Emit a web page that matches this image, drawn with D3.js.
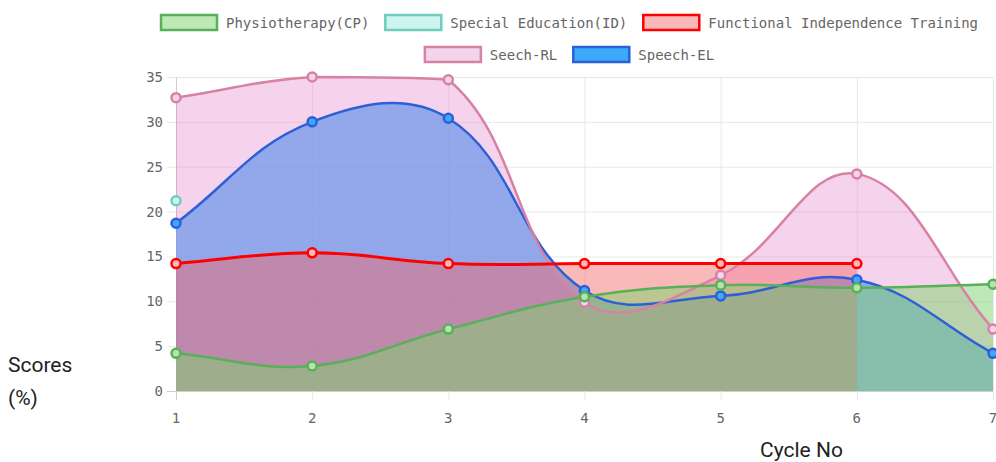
<!DOCTYPE html>
<html lang="en">

<head>
  <meta charset="UTF-8">
  <script src="https://d3js.org/d3.v7.min.js"></script>
  <style>
    body { margin: 0; background: #fff; }
  </style>
</head>

<body>

  <script>
    // data
    const cycles = [1, 2, 3, 4, 5, 6, 7];
    const physio = [4.2, 2.8, 6.9, 10.5, 11.8, 11.5, 11.9];
    const specialEd = [21.2];
    const fit = [14.2, 15.4, 14.2, 14.2, 14.2, 14.2];
    const speechRL = [32.7, 35.0, 34.7, 9.9, 12.9, 24.2, 6.9];
    const speechEL = [18.7, 30.0, 30.4, 11.2, 10.6, 12.4, 4.2];
    const yTicks = [0, 5, 10, 15, 20, 25, 30, 35];
    const seriesNames = ['Physiotherapy(CP)', 'Special Education(ID)', 'Functional Independence Training', 'Seech-RL', 'Speech-EL'];

    const series = [
      { name: seriesNames[0], values: physio, stroke: 'rgb(88,176,88)', fill: 'rgba(125,211,109,0.5)', box: 'rgb(190,233,182)', dot: 'rgb(180,228,170)', lw: 2.5 },
      { name: seriesNames[1], values: specialEd, stroke: 'rgb(110,205,190)', fill: 'rgba(110,225,205,0.35)', box: 'rgb(205,245,238)', dot: 'rgb(205,245,238)', lw: 2.5 },
      { name: seriesNames[2], values: fit, stroke: 'rgb(255,0,0)', fill: 'rgba(245,100,100,0.45)', box: 'rgb(250,185,185)', dot: 'rgb(250,185,185)', lw: 3 },
      { name: seriesNames[3], values: speechRL, stroke: 'rgb(215,130,165)', fill: 'rgba(225,110,195,0.3)', box: 'rgb(244,211,236)', dot: 'rgb(244,211,236)', lw: 2.5 },
      { name: seriesNames[4], values: speechEL, stroke: 'rgb(45,95,215)', fill: 'rgba(60,170,250,0.72)', box: 'rgb(60,170,250)', dot: 'rgb(60,170,250)', lw: 2.5 }
    ];

    const width = 996;
    const height = 462;
    const margin = { top: 77, right: 3, bottom: 71, left: 176 };

    const svg = d3.select("body")
      .append("svg")
      .attr("width", width)
      .attr("height", height);

    const x = d3.scaleLinear()
      .domain([1, 7])
      .range([margin.left, width - margin.right]);

    const y = d3.scaleLinear()
      .domain([0, 35])
      .range([height - margin.bottom, margin.top]);

    // grid
    const grid = svg.append("g");
    grid.selectAll(".hg")
      .data(yTicks)
      .enter()
      .append("line")
      .attr("x1", x(1) - 9)
      .attr("x2", x(7))
      .attr("y1", d => y(d) + 0.5)
      .attr("y2", d => y(d) + 0.5)
      .attr("stroke", d => d === 0 ? "#cfcfcf" : "#e8e8e8");

    grid.selectAll(".vg")
      .data(cycles)
      .enter()
      .append("line")
      .attr("x1", d => x(d) + 0.5)
      .attr("x2", d => x(d) + 0.5)
      .attr("y1", y(35))
      .attr("y2", y(0) + 9)
      .attr("stroke", d => d === 1 ? "#cfcfcf" : "#e8e8e8");

    // y axis labels
    svg.append("g")
      .selectAll("text")
      .data(yTicks)
      .enter()
      .append("text")
      .attr("x", x(1) - 13)
      .attr("y", d => y(d) + 5)
      .attr("text-anchor", "end")
      .attr("font-family", "DejaVu Sans Mono")
      .attr("font-size", 14)
      .attr("fill", "#666")
      .text(d => d);

    // x axis labels
    svg.append("g")
      .selectAll("text")
      .data(cycles)
      .enter()
      .append("text")
      .attr("x", d => x(d))
      .attr("y", y(0) + 32)
      .attr("text-anchor", "middle")
      .attr("font-family", "DejaVu Sans Mono")
      .attr("font-size", 14)
      .attr("fill", "#666")
      .text(d => d);

    // Chart.js style spline (tension 0.4)
    function controlPoints(pts) {
      const t = 0.4;
      return pts.map((p, i) => {
        const prev = pts[i - 1] || p;
        const next = pts[i + 1] || p;
        const d01 = Math.hypot(p[0] - prev[0], p[1] - prev[1]);
        const d12 = Math.hypot(next[0] - p[0], next[1] - p[1]);
        let s01 = d01 / (d01 + d12);
        let s12 = d12 / (d01 + d12);
        if (isNaN(s01)) s01 = 0;
        if (isNaN(s12)) s12 = 0;
        const fa = t * s01, fb = t * s12;
        const clampY = v => Math.max(y(35), Math.min(y(0), v));
        return {
          p,
          cpPrev: [p[0] - fa * (next[0] - prev[0]), clampY(p[1] - fa * (next[1] - prev[1]))],
          cpNext: [p[0] + fb * (next[0] - prev[0]), clampY(p[1] + fb * (next[1] - prev[1]))]
        };
      });
    }

    function splinePath(pts, closeToBase) {
      const cp = controlPoints(pts);
      const path = d3.path();
      path.moveTo(pts[0][0], pts[0][1]);
      for (let i = 1; i < cp.length; i++) {
        path.bezierCurveTo(cp[i - 1].cpNext[0], cp[i - 1].cpNext[1], cp[i].cpPrev[0], cp[i].cpPrev[1], cp[i].p[0], cp[i].p[1]);
      }
      if (closeToBase) {
        path.lineTo(pts[pts.length - 1][0], y(0));
        path.lineTo(pts[0][0], y(0));
        path.closePath();
      }
      return path.toString();
    }

    // fills first (last dataset at the bottom), then lines and points on top
    const ordered = series.slice().reverse();
    const fills = svg.append("g");
    const lines = svg.append("g");
    ordered.forEach(s => {
      const pts = s.values.map((v, i) => [x(cycles[i]), y(v)]);
      if (pts.length > 1) {
        fills.append("path")
          .attr("d", splinePath(pts, true))
          .attr("fill", s.fill);
      }
    });
    ordered.forEach(s => {
      const pts = s.values.map((v, i) => [x(cycles[i]), y(v)]);
      const g = lines.append("g");
      if (pts.length > 1) {
        g.append("path")
          .attr("d", splinePath(pts, false))
          .attr("fill", "none")
          .attr("stroke", s.stroke)
          .attr("stroke-width", s.lw);
      }
      g.selectAll("circle")
        .data(pts)
        .enter()
        .append("circle")
        .attr("cx", d => d[0])
        .attr("cy", d => d[1])
        .attr("r", 4.5)
        .attr("fill", s.dot)
        .attr("stroke", s.stroke)
        .attr("stroke-width", 2.5);
    });

    // legend
    const rows = [[0, 1, 2], [3, 4]];
    const rowY = [14, 46];
    const charW = 14 * 0.602;
    rows.forEach((row, r) => {
      const widths = row.map(i => 58 + 8 + series[i].name.length * charW);
      const total = d3.sum(widths) + 15 * (row.length - 1);
      let cx = (width + 142) / 2 - total / 2;
      row.forEach((i, k) => {
        const s = series[i];
        svg.append("rect")
          .attr("x", cx + 1)
          .attr("y", rowY[r] + 1)
          .attr("width", 56)
          .attr("height", 15)
          .attr("fill", s.box)
          .attr("stroke", s.stroke)
          .attr("stroke-width", 2.5);
        svg.append("text")
          .attr("x", cx + 66)
          .attr("y", rowY[r] + 14)
          .attr("font-family", "DejaVu Sans Mono")
          .attr("font-size", 14)
          .attr("fill", "#666")
          .text(s.name);
        cx += widths[k] + 15;
      });
    });

    // axis titles
    const yt = svg.append("text")
      .attr("font-family", "Roboto")
      .attr("font-size", 21)
      .attr("fill", "#222");
    yt.append("tspan").attr("x", 8).attr("y", 372).text("Scores");
    yt.append("tspan").attr("x", 8).attr("y", 405).text("(%)");

    svg.append("text")
      .attr("x", 760)
      .attr("y", 457)
      .attr("font-family", "Roboto")
      .attr("font-size", 21)
      .attr("fill", "#222")
      .text("Cycle No");
  </script>
</body>

</html>
